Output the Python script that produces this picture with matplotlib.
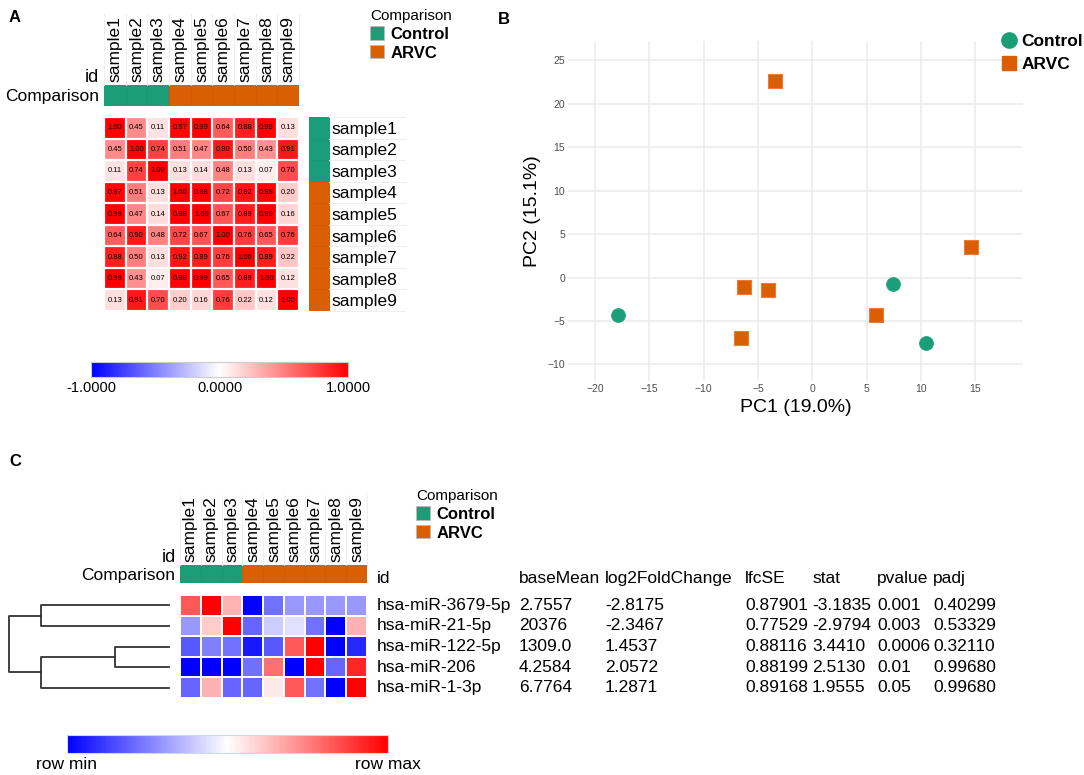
import numpy as np
import matplotlib as mpl
import matplotlib.pyplot as plt
from matplotlib.colors import LinearSegmentedColormap, ListedColormap, Normalize
from matplotlib.patches import Patch
from matplotlib.lines import Line2D

plt.rcParams['font.family'] = ['Liberation Sans', 'DejaVu Sans']

W, H = 1084, 775

# ---- data ----
samples = ['sample1', 'sample2', 'sample3', 'sample4', 'sample5',
           'sample6', 'sample7', 'sample8', 'sample9']
groups = ['Control', 'Control', 'Control', 'ARVC', 'ARVC', 'ARVC', 'ARVC', 'ARVC', 'ARVC']
group_names = ['Control', 'ARVC']
group_colors = ['#1b9e77', '#d95f02']

# sample correlation matrix (panel A)
corr = np.array([
    [1.00, 0.45, 0.11, 0.97, 0.99, 0.64, 0.88, 0.99, 0.13],
    [0.45, 1.00, 0.74, 0.51, 0.47, 0.90, 0.50, 0.43, 0.91],
    [0.11, 0.74, 1.00, 0.13, 0.14, 0.48, 0.13, 0.07, 0.70],
    [0.97, 0.51, 0.13, 1.00, 0.98, 0.72, 0.92, 0.98, 0.20],
    [0.99, 0.47, 0.14, 0.98, 1.00, 0.67, 0.89, 0.99, 0.16],
    [0.64, 0.90, 0.48, 0.72, 0.67, 1.00, 0.76, 0.65, 0.76],
    [0.88, 0.50, 0.13, 0.92, 0.89, 0.76, 1.00, 0.89, 0.22],
    [0.99, 0.43, 0.07, 0.98, 0.99, 0.65, 0.89, 1.00, 0.12],
    [0.13, 0.91, 0.70, 0.20, 0.16, 0.76, 0.22, 0.12, 1.00],
])

# PCA (panel B)
pc1_control = [-17.9, 7.4, 10.5]
pc2_control = [-4.3, -0.7, -7.5]
pc1_arvc = [-3.4, 14.6, -6.3, -4.1, 5.9, -6.6]
pc2_arvc = [22.6, 3.5, -1.1, -1.4, -4.3, -6.9]

# miRNA heatmap (panel C), row scaled: -1 = row min, 1 = row max
mirnas = ['hsa-miR-3679-5p', 'hsa-miR-21-5p', 'hsa-miR-122-5p', 'hsa-miR-206', 'hsa-miR-1-3p']
row_scaled = np.array([
    [0.65, 1.00, 0.30, -1.00, -0.55, -0.40, -0.40, -0.40, -0.40],
    [-0.40, 0.20, 1.00, -0.60, -0.20, -0.12, -0.55, -1.00, 0.30],
    [-0.65, -0.50, -0.55, -0.90, -0.65, 0.65, 1.00, -1.00, -0.85],
    [-1.00, -1.00, -1.00, -0.55, 0.55, -1.00, 1.00, -0.60, 0.85],
    [-0.60, 0.30, -0.60, -0.60, 0.08, 0.65, -0.55, -1.00, 1.00],
])
base_mean = ['2.7557', '20376', '1309.0', '4.2584', '6.7764']
log2fc = ['-2.8175', '-2.3467', '1.4537', '2.0572', '1.2871']
lfcse = ['0.87901', '0.77529', '0.88116', '0.88199', '0.89168']
stat = ['-3.1835', '-2.9794', '3.4410', '2.5130', '1.9555']
pvalue = ['0.001', '0.003', '0.0006', '0.01', '0.05']
padj = ['0.40299', '0.53329', '0.32110', '0.99680', '0.99680']
table_headers = ['id', 'baseMean', 'log2FoldChange', 'lfcSE', 'stat', 'pvalue', 'padj']

# row dendrogram: (left, right, height), new clusters numbered from 5
dendro_merges = [(0, 1, 1.29), (2, 3, 0.54), (6, 4, 1.29), (5, 7, 1.61)]

cmap = LinearSegmentedColormap.from_list('bwr_m', ['#0000ff', '#ffffff', '#ff0000'])
group_cmap = ListedColormap(group_colors)
gidx = np.array([[group_names.index(g) for g in groups]])

fig = plt.figure(figsize=(W / 100, H / 100), dpi=100)


def px_axes(x0, y0, x1, y1):
    return fig.add_axes([x0 / W, 1 - y1 / H, (x1 - x0) / W, (y1 - y0) / H])


def clear_spines(ax):
    for s in ax.spines.values():
        s.set_visible(False)


def heat(ax, values, lw):
    nr, nc = values.shape
    ax.imshow(values, cmap=cmap, vmin=-1, vmax=1, aspect='auto',
              interpolation='nearest', extent=(0, nc, nr, 0))
    for k in range(nc + 1):
        ax.axvline(k, color='white', lw=lw)
    for k in range(nr + 1):
        ax.axhline(k, color='white', lw=lw)
    ax.set_xlim(0, nc)
    ax.set_ylim(nr, 0)
    ax.axis('off')


def group_bar(x0, y0, x1, y1, label_x, sep_top):
    ax = px_axes(x0, y0, x1, y1)
    ax.imshow(gidx, cmap=group_cmap, vmin=0, vmax=1, aspect='auto',
              interpolation='nearest', extent=(0, len(samples), 0, 1))
    for k in range(1, len(samples)):
        ax.axvline(k, color=(0, 0, 0, 0.06), lw=0.5)
    ax.set_xlim(0, len(samples))
    ax.set_ylim(0, 1)
    ax.xaxis.tick_top()
    ax.set_xticks(np.arange(len(samples)) + 0.5)
    ax.set_xticklabels(samples, rotation=90, fontsize=12.5)
    ax.set_yticks([0.5])
    ax.set_yticklabels(['Comparison'], fontsize=12.5)
    ax.tick_params(length=0, pad=2)
    ax.tick_params(axis='y', pad=3.5)
    clear_spines(ax)
    # faint separators behind the column labels
    top = 1 + (y0 - sep_top) / (y1 - y0)
    for k in range(len(samples) + 1):
        ax.plot([k, k], [1, top], color='#f0f0f0', lw=0.8,
                transform=ax.get_xaxis_transform(), clip_on=False, zorder=0)
    fig.text(label_x / W, 1 - (y0 - 7) / H, 'id', ha='right', va='center', fontsize=13)
    return ax


def group_legend(x, y):
    handles = [Patch(facecolor=c, edgecolor='#bbbbbb', linewidth=0.6) for c in group_colors]
    fig.legend(handles, group_names, title='Comparison', loc='upper left',
               bbox_to_anchor=(x / W, 1 - y / H), frameon=False,
               prop={'weight': 'bold', 'size': 12}, title_fontsize=11,
               alignment='left', handlelength=0.85, handleheight=0.85,
               handletextpad=0.4, labelspacing=0.2, borderpad=0, borderaxespad=0)


# ================= Panel A =================
fig.text(9 / W, 1 - 17 / H, 'A', fontsize=12, weight='bold', va='center')

ax_hm = px_axes(104, 117, 299, 311)
heat(ax_hm, corr, 1.6)
for i in range(corr.shape[0]):
    for j in range(corr.shape[1]):
        ax_hm.text(j + 0.5, i + 0.5, f'{corr[i, j]:.2f}', ha='center', va='center',
                   fontsize=5.5, color='black')

group_bar(104, 85, 299, 106, 99, 14)

ax_row = px_axes(309, 117, 329, 311)
ax_row.imshow(gidx.T, cmap=group_cmap, vmin=0, vmax=1, aspect='auto',
              interpolation='nearest', extent=(0, 1, len(samples), 0))
for k in range(1, len(samples)):
    ax_row.axhline(k, color=(0, 0, 0, 0.05), lw=0.5)
ax_row.set_ylim(9, 0)
ax_row.set_xticks([])
ax_row.yaxis.tick_right()
ax_row.set_yticks(np.arange(9) + 0.5)
ax_row.set_yticklabels(samples, fontsize=12.5)
ax_row.tick_params(length=0, pad=2)
clear_spines(ax_row)
for k in range(10):
    ax_row.plot([1, 4.8], [k, k], color='#eeeeee', lw=0.8,
                transform=ax_row.get_yaxis_transform(), clip_on=False, zorder=0)

group_legend(370, 9)

cax_a = px_axes(91, 362, 348, 377)
cb_a = fig.colorbar(mpl.cm.ScalarMappable(Normalize(-1, 1), cmap), cax=cax_a,
                    orientation='horizontal', ticks=[-1, 0, 1])
cb_a.ax.set_xticklabels(['-1.0000', '0.0000', '1.0000'], fontsize=10.5)
cb_a.ax.tick_params(length=0, pad=3)
cb_a.outline.set_edgecolor('#cccccc')

# ================= Panel B =================
fig.text(498 / W, 1 - 19 / H, 'B', fontsize=12, weight='bold', va='center')

ax_pca = px_axes(568, 41, 1023, 381)
ax_pca.scatter(pc1_control, pc2_control, s=100, marker='o', color=group_colors[0],
               edgecolors='#2aa882', linewidths=0.6, zorder=3)
ax_pca.scatter(pc1_arvc, pc2_arvc, s=90, marker='s', color=group_colors[1],
               edgecolors='#ee7a3a', linewidths=0.8, zorder=3)
ax_pca.set_xlim(-22.5, 19.4)
ax_pca.set_ylim(-11.9, 27.2)
ax_pca.set_xticks(np.arange(-20, 16, 5))
ax_pca.set_yticks(np.arange(-10, 26, 5))
ax_pca.grid(color='#ebebeb', linewidth=1.1)
ax_pca.set_axisbelow(True)
clear_spines(ax_pca)
ax_pca.tick_params(length=0, labelsize=7.5, labelcolor='#4d4d4d', pad=2)
ax_pca.set_xlabel('PC1 (19.0%)', fontsize=14, labelpad=4)
ax_pca.set_ylabel('PC2 (15.1%)', fontsize=14, labelpad=5)

pca_handles = [
    Line2D([], [], marker='o', ls='', ms=11, color=group_colors[0]),
    Line2D([], [], marker='s', ls='', ms=10, color=group_colors[1]),
]
fig.legend(pca_handles, group_names, loc='upper left', bbox_to_anchor=(1002 / W, 1 - 34 / H),
           frameon=False, prop={'weight': 'bold', 'size': 12.5}, handlelength=0.8,
           handletextpad=0.3, labelspacing=0.45, borderpad=0, borderaxespad=0)

# ================= Panel C =================
fig.text(9 / W, 1 - 462 / H, 'C', fontsize=12, weight='bold', va='center')

group_bar(180, 565, 367, 583, 176, 495)

ax_mi = px_axes(180, 595, 367, 698)
heat(ax_mi, row_scaled, 1.4)

# dendrogram
ax_den = px_axes(9, 595, 169, 698)
pos = {i: i + 0.5 for i in range(len(mirnas))}
hgt = {i: 0.0 for i in range(len(mirnas))}
for k, (a, b, h) in enumerate(dendro_merges):
    ax_den.plot([hgt[a], h, h, hgt[b]], [pos[a], pos[a], pos[b], pos[b]],
                color='#333333', lw=1.3, clip_on=False)
    pos[len(mirnas) + k] = (pos[a] + pos[b]) / 2
    hgt[len(mirnas) + k] = h
ax_den.set_xlim(max(m[2] for m in dendro_merges), 0)
ax_den.set_ylim(len(mirnas), 0)
ax_den.axis('off')

# table of statistics
ax_tab = px_axes(370, 595, 1010, 698)
ax_tab.set_xlim(0, 640)
ax_tab.set_ylim(5, 0)
ax_tab.axis('off')
col_x = [7, 149, 235, 375, 442, 507, 563]
columns = [mirnas, base_mean, log2fc, lfcse, stat, pvalue, padj]
for cx, name in zip(col_x, table_headers):
    ax_tab.text(cx, -0.82, name, ha='left', va='center', fontsize=12.5)
for cx, col in zip(col_x, columns):
    for i, v in enumerate(col):
        ax_tab.text(cx, i + 0.5, v, ha='left', va='center', fontsize=12.5)

group_legend(416, 489)

cax_c = px_axes(67, 735, 388, 753)
cb_c = fig.colorbar(mpl.cm.ScalarMappable(Normalize(-1, 1), cmap), cax=cax_c,
                    orientation='horizontal', ticks=[-1, 1])
cb_c.ax.set_xticklabels(['row min', 'row max'], fontsize=12.5)
cb_c.ax.tick_params(length=0, pad=3)
cb_c.outline.set_edgecolor('#c8dde0')

fig.savefig('out.png', dpi=100)
